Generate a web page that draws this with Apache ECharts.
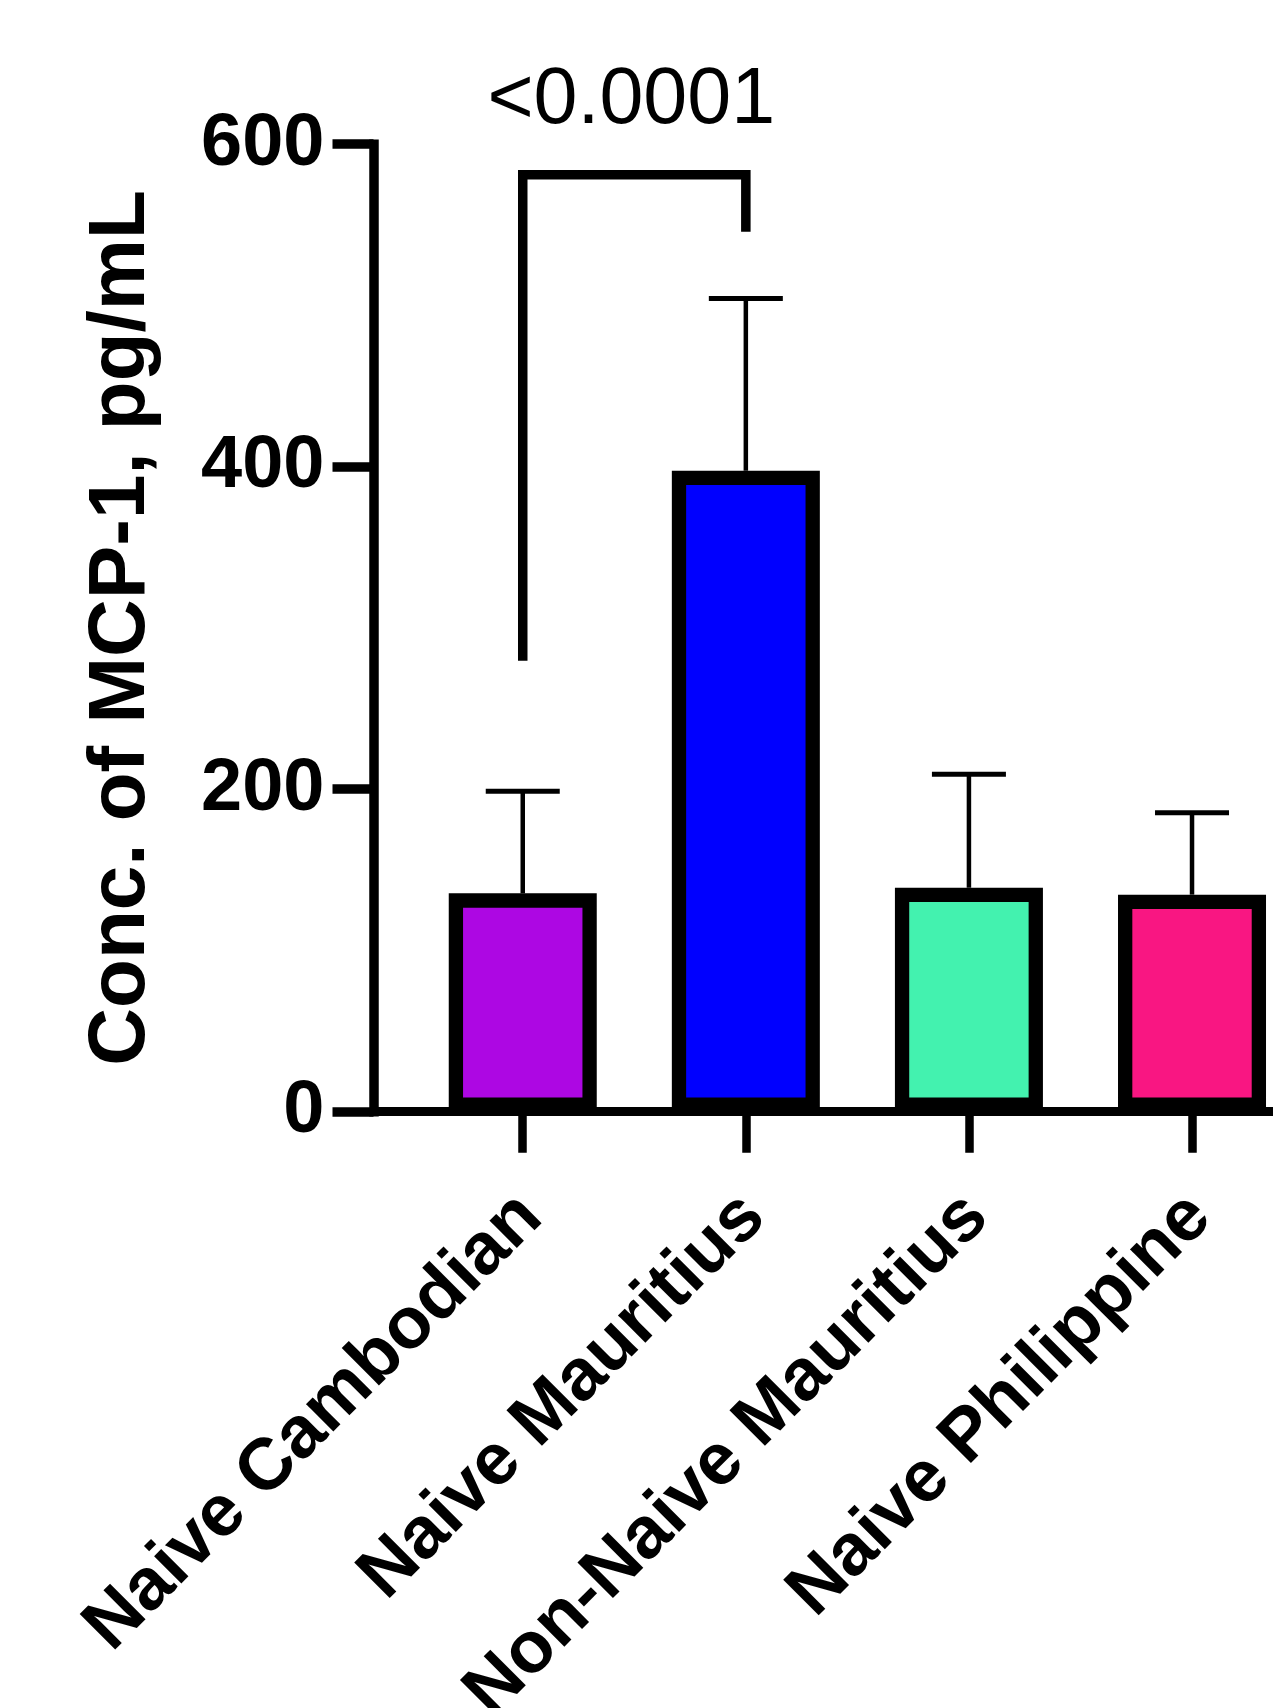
<!DOCTYPE html>
<html>
<head>
<meta charset="utf-8">
<script src="https://cdn.jsdelivr.net/npm/echarts@6/dist/echarts.min.js"></script>
<style>
html,body{margin:0;padding:0;background:#fff;}
#chart{width:1273px;height:1708px;}
</style>
</head>
<body>
<div id="chart"></div>
<script>
// ---- data ----
const categories = ['Naive Cambodian', 'Naive Mauritius', 'Non-Naive Mauritius', 'Naive Philippine'];
const means = [135.4, 397.5, 138.9, 134.6];
const sdUpper = [63.3, 106.8, 70.3, 50.8];
const barColors = ['#AD07E3', '#0000FF', '#43F2AF', '#F91682'];
const yTicks = [0, 200, 400, 600];
const yTitle = 'Conc. of MCP-1, pg/mL';
// significance bracket: [fromIndex, toIndex, leftLegEnd, rightLegEnd, top]
const bracket = [[0, 1, 279.7, 545.7, 581.1]];
const pLabel = '<0.0001';

const FONT = '"Liberation Sans", Arial, Helvetica, sans-serif';
const chart = echarts.init(document.getElementById('chart'), null, {renderer: 'canvas'});

const barData = means.map((m, i) => ({value: [i, m], itemStyle: {color: barColors[i]}}));
const errData = means.map((m, i) => [i, m, m + sdUpper[i]]);
const tickPos = categories.map((c, i) => i);
const labelPos = categories.map((c, i) => i + 0.035);

const option = {
  backgroundColor: '#fff',
  animation: false,
  grid: {left: 373.5, right: 0, top: 144.2, bottom: 596.3, containLabel: false, outerBoundsMode: 'none'},
  xAxis: {
    type: 'value',
    min: -0.669,
    max: 3.363,
    z: 5,
    splitLine: {show: false},
    axisLine: {show: true, onZero: false, lineStyle: {color: '#000', width: 9}},
    axisTick: {show: true, customValues: tickPos, length: 41, lineStyle: {color: '#000', width: 8.5}},
    axisLabel: {
      show: true,
      customValues: labelPos,
      formatter: v => categories[Math.round(v)] || '',
      rotate: 45,
      margin: 94,
      color: '#000',
      fontSize: 73,
      fontWeight: 'bold',
      fontFamily: FONT
    }
  },
  yAxis: {
    type: 'value',
    min: 0,
    max: 600,
    interval: 200,
    z: 5,
    splitLine: {show: false},
    axisLine: {show: true, onZero: false, lineStyle: {color: '#000', width: 9.5, cap: 'square'}},
    axisTick: {show: true, length: 41, lineStyle: {color: '#000', width: 9.5}},
    axisLabel: {
      color: '#000', fontSize: 74, fontWeight: 'bold', fontFamily: FONT, margin: 49,
      formatter: v => (yTicks.indexOf(v) >= 0 ? String(v) : '')
    },
    name: yTitle,
    nameLocation: 'middle',
    nameRotate: 90,
    nameGap: 212,
    nameTextStyle: {color: '#000', fontSize: 80, fontWeight: 'bold', fontFamily: FONT}
  },
  series: [
    {
      type: 'bar',
      data: barData,
      barWidth: 148,
      z: 2,
      itemStyle: {borderColor: '#000', borderWidth: 14.3}
    },
    {
      type: 'custom',
      z: 3,
      data: errData,
      renderItem: function (params, api) {
        const x = api.value(0), lo = api.value(1), hi = api.value(2);
        const p0 = api.coord([x, lo]);
        const p1 = api.coord([x, hi]);
        const half = 37;
        return {
          type: 'group',
          children: [
            {type: 'line', shape: {x1: p0[0], y1: p0[1], x2: p1[0], y2: p1[1]}, style: {stroke: '#000', lineWidth: 4.5}},
            {type: 'line', shape: {x1: p1[0] - half, y1: p1[1], x2: p1[0] + half, y2: p1[1]}, style: {stroke: '#000', lineWidth: 5}}
          ]
        };
      }
    },
    {
      type: 'custom',
      z: 4,
      data: bracket,
      renderItem: function (params, api) {
        const a = api.coord([api.value(0), api.value(2)]);
        const aTop = api.coord([api.value(0), api.value(4)]);
        const bTop = api.coord([api.value(1), api.value(4)]);
        const b = api.coord([api.value(1), api.value(3)]);
        return {
          type: 'group',
          children: [
            {type: 'polyline', shape: {points: [a, aTop, bTop, b]},
             style: {stroke: '#000', lineWidth: 9.5, fill: null, lineJoin: 'miter', lineCap: 'butt'}},
            {type: 'text', x: (aTop[0] + bTop[0]) / 2 - 3, y: aTop[1] - 73,
             style: {text: pLabel, fontSize: 79, fontFamily: FONT, fill: '#000', align: 'center', verticalAlign: 'middle'}}
          ]
        };
      }
    }
  ]
};
chart.setOption(option);
</script>
</body>
</html>
